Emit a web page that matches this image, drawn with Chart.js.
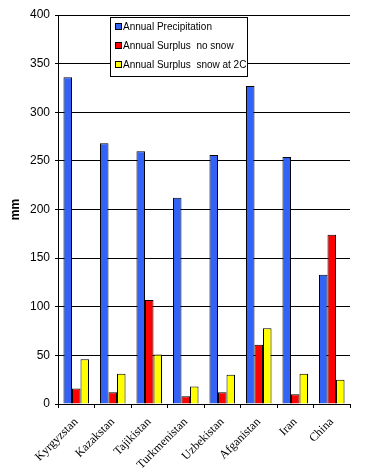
<!DOCTYPE html>
<html>
<head>
<meta charset="utf-8">
<script src="https://cdn.jsdelivr.net/npm/chart.js@4/dist/chart.umd.min.js"></script>
<style>
  html, body { margin: 0; padding: 0; background: #fff; }
  #wrap { width: 367px; height: 473px; }
</style>
</head>
<body>
<div id="wrap"><canvas id="chart" width="367" height="473"></canvas></div>
<script>
// Countries along the x axis
const countries = ['Kyrgyzstan', 'Kazakstan', 'Tajikistan', 'Turkmenistan', 'Uzbekistan', 'Afganistan', 'Iran', 'China'];

// Series values (mm)
const precipitation = [336, 268, 260, 212, 256, 327, 254, 133];
const surplusNoSnow = [16, 12, 107, 8, 12, 61, 10, 174];
const surplusSnow2C = [46, 31, 51, 18, 30, 78, 31, 25];

const seriesLabels = ['Annual Precipitation', 'Annual Surplus  no snow', 'Annual Surplus  snow at 2C'];
const seriesColors = ['#3362F6', '#FF0000', '#FFFF00'];

// Boxed legend in the upper middle, drawn by hand
const boxLegend = {
  id: 'boxLegend',
  afterDraw(chart) {
    const ctx = chart.ctx;
    const x = 110.5, y = 17.5, w = 137, h = 59;
    ctx.save();
    ctx.fillStyle = '#fff';
    ctx.fillRect(x, y, w, h);
    ctx.strokeStyle = '#000';
    ctx.lineWidth = 1;
    ctx.strokeRect(x, y, w, h);
    ctx.font = '10px "Liberation Sans", Arial, sans-serif';
    ctx.textBaseline = 'middle';
    chart.data.datasets.forEach((ds, i) => {
      const cy = 27 + i * 19;
      ctx.fillStyle = ds.backgroundColor;
      ctx.fillRect(115.5, cy - 3.5, 6, 6);
      ctx.strokeStyle = '#000';
      ctx.strokeRect(115.5, cy - 3.5, 6, 6);
      ctx.fillStyle = '#000';
      ctx.fillText(ds.label, 123, cy);
    });
    ctx.restore();
  }
};

new Chart(document.getElementById('chart'), {
  type: 'bar',
  data: {
    labels: countries,
    datasets: [
      { label: seriesLabels[0], data: precipitation, backgroundColor: seriesColors[0] },
      { label: seriesLabels[1], data: surplusNoSnow, backgroundColor: seriesColors[1] },
      { label: seriesLabels[2], data: surplusSnow2C, backgroundColor: seriesColors[2] }
    ].map(ds => Object.assign(ds, {
      borderColor: '#000',
      borderWidth: 1,
      categoryPercentage: 0.7,
      barPercentage: 1
    }))
  },
  options: {
    responsive: false,
    animation: false,
    layout: { padding: { top: 15, right: 17, left: 0, bottom: 0 } },
    plugins: {
      legend: { display: false },
      tooltip: { enabled: false }
    },
    scales: {
      x: {
        afterFit(scale) { scale.height = 69; },
        grid: {
          offset: true,
          drawOnChartArea: false,
          drawTicks: true,
          tickLength: 4,
          color: '#000'
        },
        border: { color: '#000', width: 1 },
        ticks: {
          minRotation: 45,
          maxRotation: 45,
          padding: 7,
          color: '#000',
          font: { family: '"Liberation Serif", "Times New Roman", serif', size: 12 }
        }
      },
      y: {
        min: 0,
        max: 400,
        afterFit(scale) { scale.width = 58; },
        grid: { color: '#000', tickLength: 3, lineWidth: 1 },
        border: { color: '#000', width: 1 },
        ticks: {
          stepSize: 50,
          padding: 5,
          color: '#000',
          font: { family: '"Liberation Sans", Arial, sans-serif', size: 12 }
        },
        title: {
          display: true,
          text: 'mm',
          color: '#000',
          padding: { top: 8, bottom: 0 },
          font: { family: '"Liberation Sans", Arial, sans-serif', size: 12, weight: 'bold' }
        }
      }
    }
  },
  plugins: [boxLegend]
});
</script>
</body>
</html>
